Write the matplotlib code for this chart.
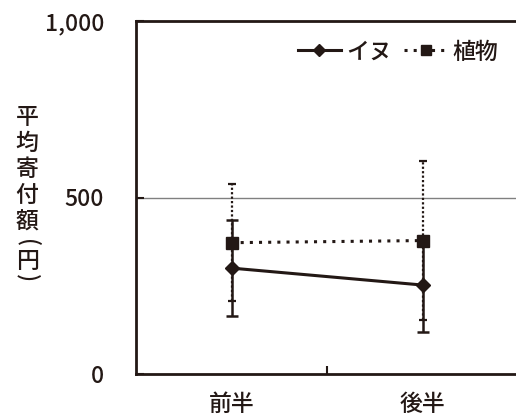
import matplotlib
matplotlib.use('Agg')
import matplotlib.pyplot as plt
from matplotlib.lines import Line2D
import numpy as np

plt.rcParams['font.family'] = ['Noto Sans CJK JP', 'DejaVu Sans']
plt.rcParams['font.weight'] = 'medium'

# Daten
kategorien = ['前半', '後半']
inu = [300, 252]
inu_err = [135, 133]
shokubutsu = [372, 378]
shokubutsu_err = [165, 225]
ylabel_zeichen = ['平', '均', '寄', '付', '額', '(', '円', ')']

farbe = '#231815'
fs = 16.5

fig = plt.figure(figsize=(5.16, 4.16), dpi=100)
ax = fig.add_axes([136/516, 42/416, 382/516, 353/416])

x = np.arange(len(kategorien))

# 植物 (gepunktet)
_, _, bars = ax.errorbar(x, shokubutsu, yerr=shokubutsu_err, color=farbe,
                         linestyle=(0, (1, 2)), linewidth=2.2, marker='s',
                         markersize=8.5, capsize=3, elinewidth=1.6, capthick=1.6,
                         zorder=3)
for b in bars:
    b.set_linestyle((0, (1, 1)))

# イヌ (durchgezogen)
ax.errorbar(x, inu, yerr=inu_err, color=farbe, linestyle='-', linewidth=2.2,
            marker='D', markersize=7, capsize=4, elinewidth=1.8, capthick=1.8,
            zorder=4)

ax.axhline(500, color='#808080', linewidth=1.0, zorder=1)

ax.set_xlim(-0.5, 1.5)
ax.set_ylim(0, 1000)

ax.set_yticks([0, 500, 1000])
ax.set_yticklabels(['0', '500', '1,000'])
ax.tick_params(axis='y', direction='in', length=6, width=1.5, color=farbe,
               labelsize=fs, pad=23, labelcolor=farbe)

ax.set_xticks([0.5])
ax.set_xticklabels([''])
ax.set_xticks(x, minor=True)
ax.set_xticklabels(kategorien, minor=True)
ax.tick_params(axis='x', which='major', direction='in', length=6, width=1.5, color=farbe)
ax.tick_params(axis='x', which='minor', length=0, labelsize=fs, pad=14, labelcolor=farbe)

for s in ['left', 'bottom', 'top']:
    ax.spines[s].set_color(farbe)
    ax.spines[s].set_linewidth(2.0)
ax.spines['right'].set_visible(False)

h_inu = Line2D([], [], color=farbe, linestyle='-', linewidth=2.2, marker='D', markersize=6)
h_sho = Line2D([], [], color=farbe, linestyle=(0, (1, 2)), linewidth=2.2, marker='s', markersize=7.5)
fig.legend([h_inu, h_sho], ['イヌ', '植物'], loc='center right', ncol=2, frameon=False,
           fontsize=fs, handlelength=1.9, columnspacing=0.55, handletextpad=0.2,
           borderaxespad=0, borderpad=0, labelcolor=farbe,
           bbox_to_anchor=(498/516, 1 - 52/416), bbox_transform=fig.transFigure)

# vertikale Achsenbeschriftung, Zeichen einzeln gesetzt (Klammern gedreht)
y_pos = [117, 143, 170, 196, 222, 243, 261, 278]
for z, yp in zip(ylabel_zeichen, y_pos):
    rot = -90 if z in '()' else 0
    fig.text(27/516, 1 - yp/416, z, ha='center', va='center', fontsize=fs,
             rotation=rot, color=farbe)

fig.savefig('out.png', dpi=100)
